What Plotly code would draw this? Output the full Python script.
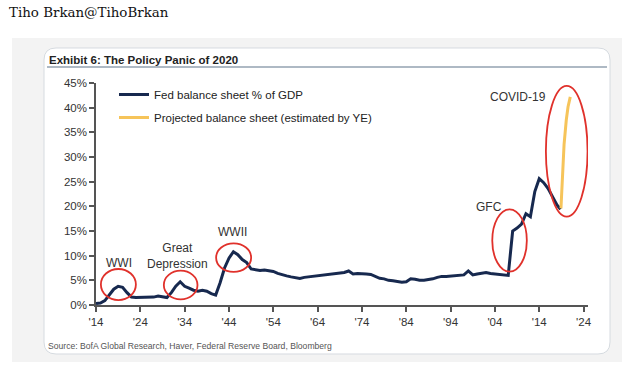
import plotly.graph_objects as go

# ---------------- data ----------------
fed_years = [1914, 1915, 1916, 1917, 1918, 1919, 1920, 1921, 1922, 1923, 1924, 1925, 1926, 1927,
             1928, 1929, 1930, 1931, 1932, 1933, 1934, 1935, 1936, 1937, 1938, 1939, 1940, 1941,
             1942, 1943, 1944, 1945, 1946, 1947, 1948, 1949, 1950, 1951, 1952, 1953, 1954, 1955,
             1956, 1957, 1958, 1959, 1960, 1961, 1962, 1963, 1964, 1965, 1966, 1967, 1968, 1969,
             1970, 1971, 1972, 1973, 1974, 1975, 1976, 1977, 1978, 1979, 1980, 1981, 1982, 1983,
             1984, 1985, 1986, 1987, 1988, 1989, 1990, 1991, 1992, 1993, 1994, 1995, 1996, 1997,
             1998, 1999, 2000, 2001, 2002, 2003, 2004, 2005, 2006, 2007, 2008, 2009, 2010, 2011,
             2012, 2013, 2014, 2015, 2016, 2017, 2018, 2018.8]
fed_pct = [0.3, 0.4, 0.9, 2.0, 3.2, 3.8, 3.6, 2.5, 1.6, 1.5, 1.5, 1.5, 1.5, 1.6,
           1.8, 1.6, 1.5, 2.5, 3.8, 4.7, 3.8, 3.4, 3.0, 2.8, 3.0, 2.8, 2.3, 2.0,
           4.5, 7.5, 9.5, 10.8, 10.2, 9.2, 8.6, 7.3, 7.1, 7.0, 7.1, 7.0, 6.8, 6.4,
           6.1, 5.9, 5.7, 5.5, 5.4, 5.6, 5.7, 5.8, 6.0, 6.1, 6.2, 6.2, 6.3, 6.4,
           6.6, 6.9, 6.3, 6.4, 6.4, 6.3, 6.2, 5.8, 5.4, 5.3, 5.0, 4.9, 4.8, 4.6,
           4.7, 5.3, 5.2, 5.0, 5.0, 5.1, 5.3, 5.6, 5.8, 5.8, 5.9, 5.9, 6.0, 6.1,
           6.9, 6.1, 6.3, 6.5, 6.6, 6.4, 6.3, 6.2, 6.1, 6.0, 15.0, 15.6, 16.4, 18.5,
           17.9, 23.0, 25.6, 24.8, 23.6, 22.0, 20.3, 19.4]

proj_years = [2018.9, 2019.3, 2019.6, 2020.1, 2020.5, 2021.0]
proj_pct = [19.6, 28.5, 32.5, 37.5, 40.2, 42.2]

x_tick_vals = [1914, 1924, 1934, 1944, 1954, 1964, 1974, 1984, 1994, 2004, 2014, 2024]
x_tick_text = ["'14", "'24", "'34", "'44", "'54", "'64", "'74", "'84", "'94", "'04", "'14", "'24"]
y_tick_vals = [0, 5, 10, 15, 20, 25, 30, 35, 40, 45]
y_tick_text = ["0%", "5%", "10%", "15%", "20%", "25%", "30%", "35%", "40%", "45%"]

event_labels = ["WWI", "Great<br>Depression", "WWII", "GFC", "COVID-19"]
event_label_x = [1919.3, 1932.4, 1944.8, 2002.6, 2009.3]
event_label_y = [8.6, 10.0, 14.7, 19.9, 42.2]
# ellipse extents (x0, x1, y0, y1) in data units
event_ellipses = [(1915.1, 1923.0, 1.0, 7.3),
                  (1929.3, 1936.9, 1.15, 6.95),
                  (1941.1, 1949.0, 6.7, 12.5),
                  (2003.4, 2011.2, 6.75, 19.4),
                  (2015.5, 2024.9, 17.9, 44.4)]

title_text = "Exhibit 6: The Policy Panic of 2020"
source_text = "Source: BofA Global Research, Haver, Federal Reserve Board, Bloomberg"
author_text = "Tiho Brkan@TihoBrkan"

# ---------------- layout geometry ----------------
W, H = 632, 369
ML, MR, MT, MB = 96, 44, 83, 64
PW = W - ML - MR
PH = H - MT - MB


def px2x(px):
    return (px - ML) / PW


def px2y(py):
    return (H - MB - py) / PH


def rounded_rect(x0, y0, x1, y1, r):
    # pixel coordinates -> paper path with rounded corners
    def P(a, b):
        return f"{px2x(a):.5f},{px2y(b):.5f}"
    return ("M" + P(x0 + r, y0) + " L" + P(x1 - r, y0) + " Q" + P(x1, y0) + " " + P(x1, y0 + r)
            + " L" + P(x1, y1 - r) + " Q" + P(x1, y1) + " " + P(x1 - r, y1)
            + " L" + P(x0 + r, y1) + " Q" + P(x0, y1) + " " + P(x0, y1 - r)
            + " L" + P(x0, y0 + r) + " Q" + P(x0, y0) + " " + P(x0 + r, y0) + " Z")


NAVY = "#17294f"
YELLOW = "#f6c45a"
RED = "#e0312b"
FONT = "Liberation Sans, Arial, sans-serif"

fig = go.Figure()
fig.add_trace(go.Scatter(x=fed_years, y=fed_pct, mode="lines", name="Fed balance sheet % of GDP",
                         line=dict(color=NAVY, width=3), legendgroup="a"))
fig.add_trace(go.Scatter(x=proj_years, y=proj_pct, mode="lines",
                         name="Projected balance sheet (estimated by YE)",
                         line=dict(color=YELLOW, width=3), legendgroup="b"))

shapes = [
    dict(type="rect", xref="paper", yref="paper", x0=px2x(12), x1=px2x(622), y0=px2y(362), y1=px2y(38),
         fillcolor="#f3f3f3", line=dict(width=0), layer="below"),
    dict(type="path", xref="paper", yref="paper", path=rounded_rect(44, 48, 610, 354, 12),
         fillcolor="white", line=dict(color="#d6dbe0", width=1), layer="below"),
    dict(type="line", xref="paper", yref="paper", x0=px2x(47), x1=px2x(607), y0=px2y(67), y1=px2y(67),
         line=dict(color="#93a2b0", width=1.5), layer="below"),
]
for (x0, x1, y0, y1) in event_ellipses:
    shapes.append(dict(type="circle", xref="x", yref="y", x0=x0, x1=x1, y0=y0, y1=y1,
                       line=dict(color=RED, width=1.8)))

annotations = [
    dict(text=author_text, xref="paper", yref="paper", x=px2x(7), y=px2y(13), xanchor="left",
         yanchor="middle", showarrow=False, font=dict(family="DejaVu Serif, serif", size=13.4, color="#111")),
    dict(text="<b>" + title_text + "</b>", xref="paper", yref="paper", x=px2x(47), y=px2y(60),
         xanchor="left", yanchor="middle", showarrow=False, font=dict(family=FONT, size=11.5, color="#222")),
    dict(text=source_text, xref="paper", yref="paper", x=px2x(46), y=px2y(346), xanchor="left",
         yanchor="middle", showarrow=False, font=dict(family=FONT, size=8.6, color="#555")),
]
for t, x, y in zip(event_labels, event_label_x, event_label_y):
    annotations.append(dict(text=t, x=x, y=y, xref="x", yref="y", showarrow=False,
                            xanchor="center", yanchor="middle",
                            font=dict(family=FONT, size=12, color="#333")))

fig.update_layout(
    width=W, height=H,
    margin=dict(l=ML, r=MR, t=MT, b=MB),
    paper_bgcolor="white", plot_bgcolor="rgba(0,0,0,0)",
    font=dict(family=FONT, size=11.5, color="#333"),
    showlegend=True,
    legend=dict(x=px2x(114), y=px2y(80), xanchor="left", yanchor="top", bgcolor="rgba(0,0,0,0)",
                font=dict(family=FONT, size=11.5, color="#222"), tracegroupgap=4, itemwidth=30),
    xaxis=dict(range=[1914, 2025], tickvals=x_tick_vals, ticktext=x_tick_text, showgrid=False,
               zeroline=False, showline=True, linecolor="#555", linewidth=1.5, ticks="outside",
               ticklen=5, tickcolor="#555", tickwidth=1.5, tickfont=dict(size=11.5, color="#333")),
    yaxis=dict(range=[0, 45], tickvals=y_tick_vals, ticktext=y_tick_text, showgrid=False,
               zeroline=False, showline=True, linecolor="#555", linewidth=1.5, ticks="outside",
               ticklen=5, tickcolor="#555", tickwidth=1.5, tickfont=dict(size=11.5, color="#333")),
    shapes=shapes, annotations=annotations,
)

fig.write_html("out.html", config={"displayModeBar": False},
               post_script="document.body.style.margin='0';document.body.style.overflow='hidden';")
